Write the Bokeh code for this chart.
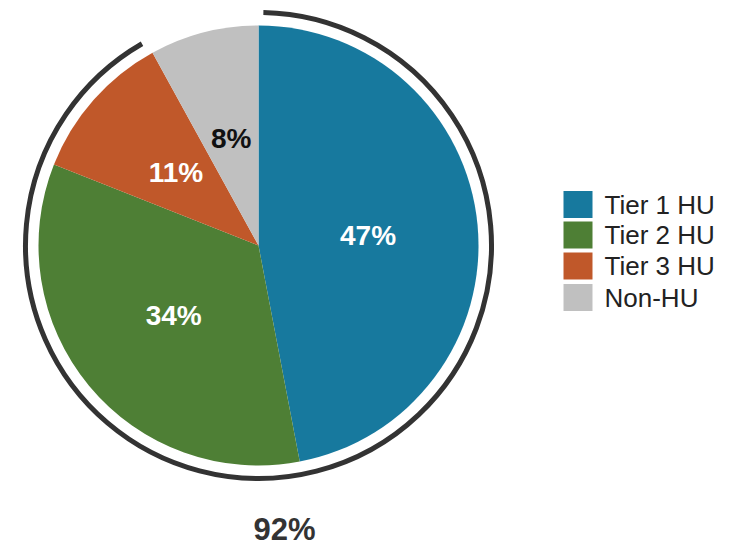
import numpy as np
from bokeh.plotting import figure
from bokeh.models import Range1d, ColumnDataSource
from bokeh.core.properties import value
from bokeh.embed import file_html
from bokeh.resources import INLINE

categories = ["Tier 1 HU", "Tier 2 HU", "Tier 3 HU", "Non-HU"]
shares = [47, 34, 11, 8]
colors = ["#17799e", "#4e7f35", "#c0582a", "#c0c0c0"]
label_colors = ["white", "white", "white", "#111111"]
hu_total_label = "92%"
hu_total = 92

W, H = 742, 547
def Y(py):
    return H - py

p = figure(width=W, height=H, output_backend="svg", toolbar_location=None,
           x_range=Range1d(0, W), y_range=Range1d(0, H),
           min_border=0, outline_line_color=None)
p.axis.visible = False
p.grid.visible = False
p.background_fill_color = "white"

cx, cy, R = 258, Y(245), 220
vals = np.array(shares, dtype=float)
fr = vals / vals.sum()
cum_end = np.cumsum(fr)
cum_start = cum_end - fr
start = np.pi / 2 - cum_end * 2 * np.pi
end = np.pi / 2 - cum_start * 2 * np.pi
mid = (cum_start + cum_end) / 2 * 2 * np.pi
lr = 110
src = ColumnDataSource(dict(cat=categories, s=start, e=end, c=colors,
                            lx=cx + lr * np.sin(mid), ly=cy + lr * np.cos(mid),
                            lab=[f"{v}%" for v in shares], lc=label_colors))
p.wedge(x=cx, y=cy, radius=R, start_angle="s", end_angle="e", fill_color="c",
        line_color=None, direction="anticlock", source=src)

p.text(x="lx", y="ly", text="lab", text_color="lc", source=src,
       text_font=value("Liberation Sans"), text_font_style="bold",
       text_font_size="28px", text_align="center", text_baseline="middle")

# outer arc for HU total
gap = np.deg2rad(1.2)
a0 = np.pi / 2 - gap
a1 = np.pi / 2 - hu_total / 100 * 2 * np.pi + gap
p.arc(x=cx, y=cy, radius=233, start_angle=a0, end_angle=a1, direction="clock",
      line_color="#333333", line_width=5)
p.text(x=[cx + 26], y=[Y(529)], text=[hu_total_label], text_color="#333333",
       text_font=value("Liberation Sans"), text_font_style="bold",
       text_font_size="31px", text_align="center", text_baseline="middle")

# legend
ly = [Y(204), Y(234.5), Y(265.5), Y(297)]
p.rect(x=[577.5] * 4, y=ly, width=29, height=27, fill_color=colors, line_color=None)
p.text(x=[604] * 4, y=ly, text=categories, text_color="#222222",
       text_font=value("Liberation Sans"), text_font_size="26px",
       text_align="left", text_baseline="middle")

open("out.html", "w").write(file_html(p, INLINE))
